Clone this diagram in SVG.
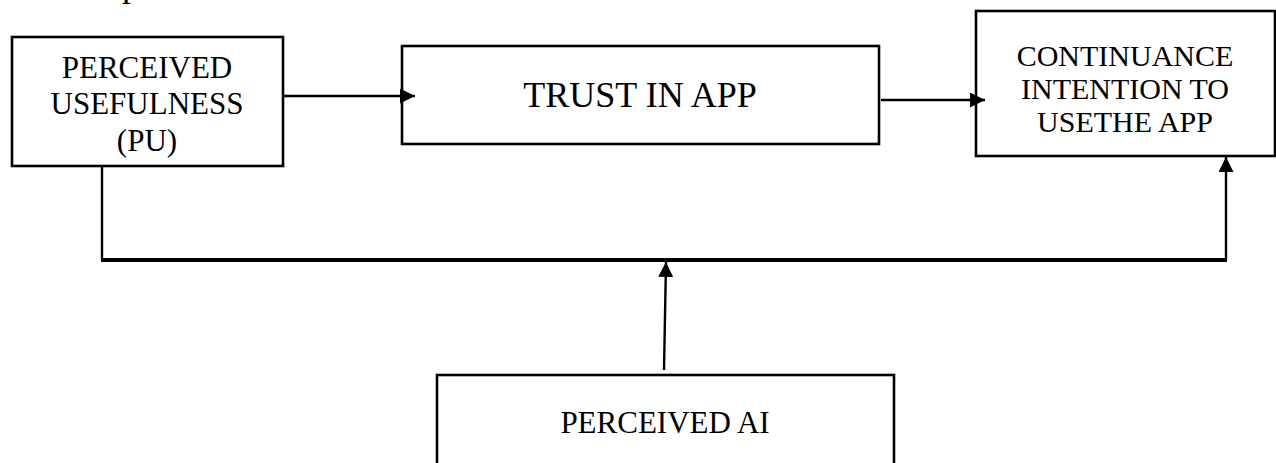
<svg xmlns="http://www.w3.org/2000/svg" width="1276" height="463" viewBox="0 0 1276 463">
  <style>
    .box { fill: #ffffff; stroke: #000000; stroke-width: 2.6; }
    .label { font-family: "Liberation Serif", "Times New Roman", serif; font-size: 31px; fill: #000000; text-anchor: middle; }
    .big { font-size: 36px; }
    .tight { font-size: 30px; }
    .wire { fill: none; stroke: #000000; stroke-width: 2.4; }
    .bus { fill: none; stroke: #000000; stroke-width: 3.8; }
  </style>
  <defs>
    <marker id="head" viewBox="0 0 15 15" refX="15" refY="7.5" markerWidth="15" markerHeight="15" markerUnits="userSpaceOnUse" orient="auto">
      <path d="M0,0 L15,7.5 L0,15 Z" fill="#000000"/>
    </marker>
  </defs>
  <rect width="1276" height="463" fill="#ffffff"/>

  <!-- heading descender cut at the top edge -->
  <text class="label big" x="131" y="-4">p</text>

  <g id="node-pu">
    <rect class="box" x="12" y="37" width="271" height="129"/>
    <text class="label" x="147" y="78">PERCEIVED</text>
    <text class="label" x="147" y="114">USEFULNESS</text>
    <text class="label" x="147" y="151">(PU)</text>
  </g>

  <g id="node-trust">
    <rect class="box" x="402" y="46" width="477" height="98"/>
    <text class="label big" x="640" y="107">TRUST IN APP</text>
  </g>

  <g id="node-continuance">
    <rect class="box" x="976" y="11" width="299" height="145"/>
    <text class="label tight" x="1125" y="66">CONTINUANCE</text>
    <text class="label tight" x="1125" y="99">INTENTION TO</text>
    <text class="label tight" x="1125" y="132">USETHE APP</text>
  </g>

  <g id="node-ai">
    <rect class="box" x="437" y="375" width="457" height="100"/>
    <text class="label" x="665" y="433">PERCEIVED AI</text>
  </g>

  <g id="connectors">
    <line class="wire" x1="283" y1="96" x2="415" y2="96" marker-end="url(#head)"/>
    <line class="wire" x1="881" y1="100" x2="985" y2="100" marker-end="url(#head)"/>
    <!-- moderating bus joining PU and continuance -->
    <polyline class="wire" points="102,166 102,260"/>
    <line class="bus" x1="101" y1="260" x2="1227" y2="260"/>
    <line class="wire" x1="1226" y1="260" x2="1226" y2="157" marker-end="url(#head)"/>
    <line class="wire" x1="664" y1="370" x2="666" y2="262" marker-end="url(#head)"/>
  </g>
</svg>
